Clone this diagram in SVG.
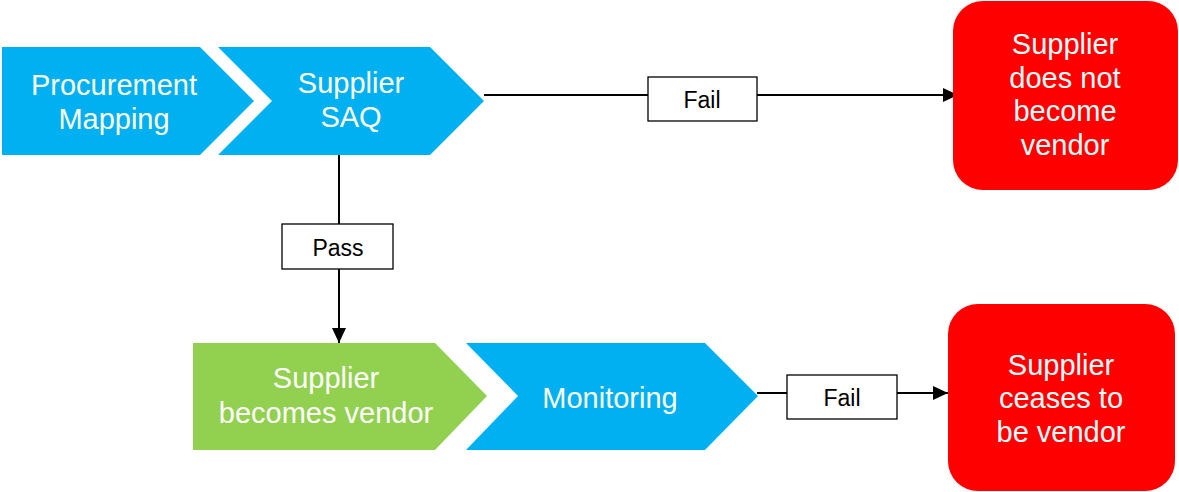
<svg xmlns="http://www.w3.org/2000/svg" width="1179" height="492" viewBox="0 0 1179 492">
<style>
.blue{fill:#00B0F0}
.green{fill:#92D050}
.red{fill:#FF0000}
.wt{fill:#FFFFFF;font-family:"Liberation Sans",Arial,sans-serif;font-size:29px;text-anchor:middle}
.lbl{fill:#FFFFFF;stroke:#000000;stroke-width:1.3}
.lt{fill:#000000;font-family:"Liberation Sans",Arial,sans-serif;font-size:23px;text-anchor:middle}
.conn{stroke:#000000;stroke-width:2;fill:none}
</style>
<defs>
<marker id="arr" markerUnits="userSpaceOnUse" markerWidth="16" markerHeight="15" refX="15" refY="7" orient="auto">
<path d="M0,0 L15,7 L0,14 Z" fill="#000000"/>
</marker>
</defs>
<rect width="1179" height="492" fill="#FFFFFF"/>
<g id="connectors">
<line class="conn" x1="484" y1="95" x2="958" y2="95" marker-end="url(#arr)"/>
<line class="conn" x1="339" y1="154" x2="339" y2="343" marker-end="url(#arr)"/>
<line class="conn" x1="757" y1="393" x2="948" y2="393" marker-end="url(#arr)"/>
</g>
<g id="procurement-mapping">
<polygon class="blue" points="2,47 200,47 254,101 200,155 2,155"/>
<text class="wt" x="114" y="95">Procurement</text>
<text class="wt" x="114" y="129">Mapping</text>
</g>
<g id="supplier-saq">
<polygon class="blue" points="218,47 430,47 484,101 430,155 218,155 272,101"/>
<text class="wt" x="351" y="93">Supplier</text>
<text class="wt" x="351" y="127">SAQ</text>
</g>
<g id="becomes-vendor">
<polygon class="green" points="193,343 435,343 487,396 435,450 193,450"/>
<text class="wt" x="326" y="388">Supplier</text>
<text class="wt" x="326" y="423">becomes vendor</text>
</g>
<g id="monitoring">
<polygon class="blue" points="466,343 705,343 758,396 705,450 466,450 518,396"/>
<text class="wt" x="610" y="408">Monitoring</text>
</g>
<g id="not-vendor">
<rect class="red" x="953" y="1" width="225" height="189" rx="30" ry="30"/>
<text class="wt" x="1065" y="54">Supplier</text>
<text class="wt" x="1065" y="88">does not</text>
<text class="wt" x="1065" y="121">become</text>
<text class="wt" x="1065" y="155">vendor</text>
</g>
<g id="ceases-vendor">
<rect class="red" x="948" y="304" width="227" height="187" rx="30" ry="30"/>
<text class="wt" x="1061" y="375">Supplier</text>
<text class="wt" x="1061" y="408">ceases to</text>
<text class="wt" x="1061" y="442">be vendor</text>
</g>
<g id="label-fail-1">
<rect class="lbl" x="648" y="77" width="109" height="44"/>
<text class="lt" x="702" y="108">Fail</text>
</g>
<g id="label-pass">
<rect class="lbl" x="282" y="224" width="111" height="45"/>
<text class="lt" x="338" y="256">Pass</text>
</g>
<g id="label-fail-2">
<rect class="lbl" x="787" y="375" width="110" height="44"/>
<text class="lt" x="842" y="406">Fail</text>
</g>
</svg>
